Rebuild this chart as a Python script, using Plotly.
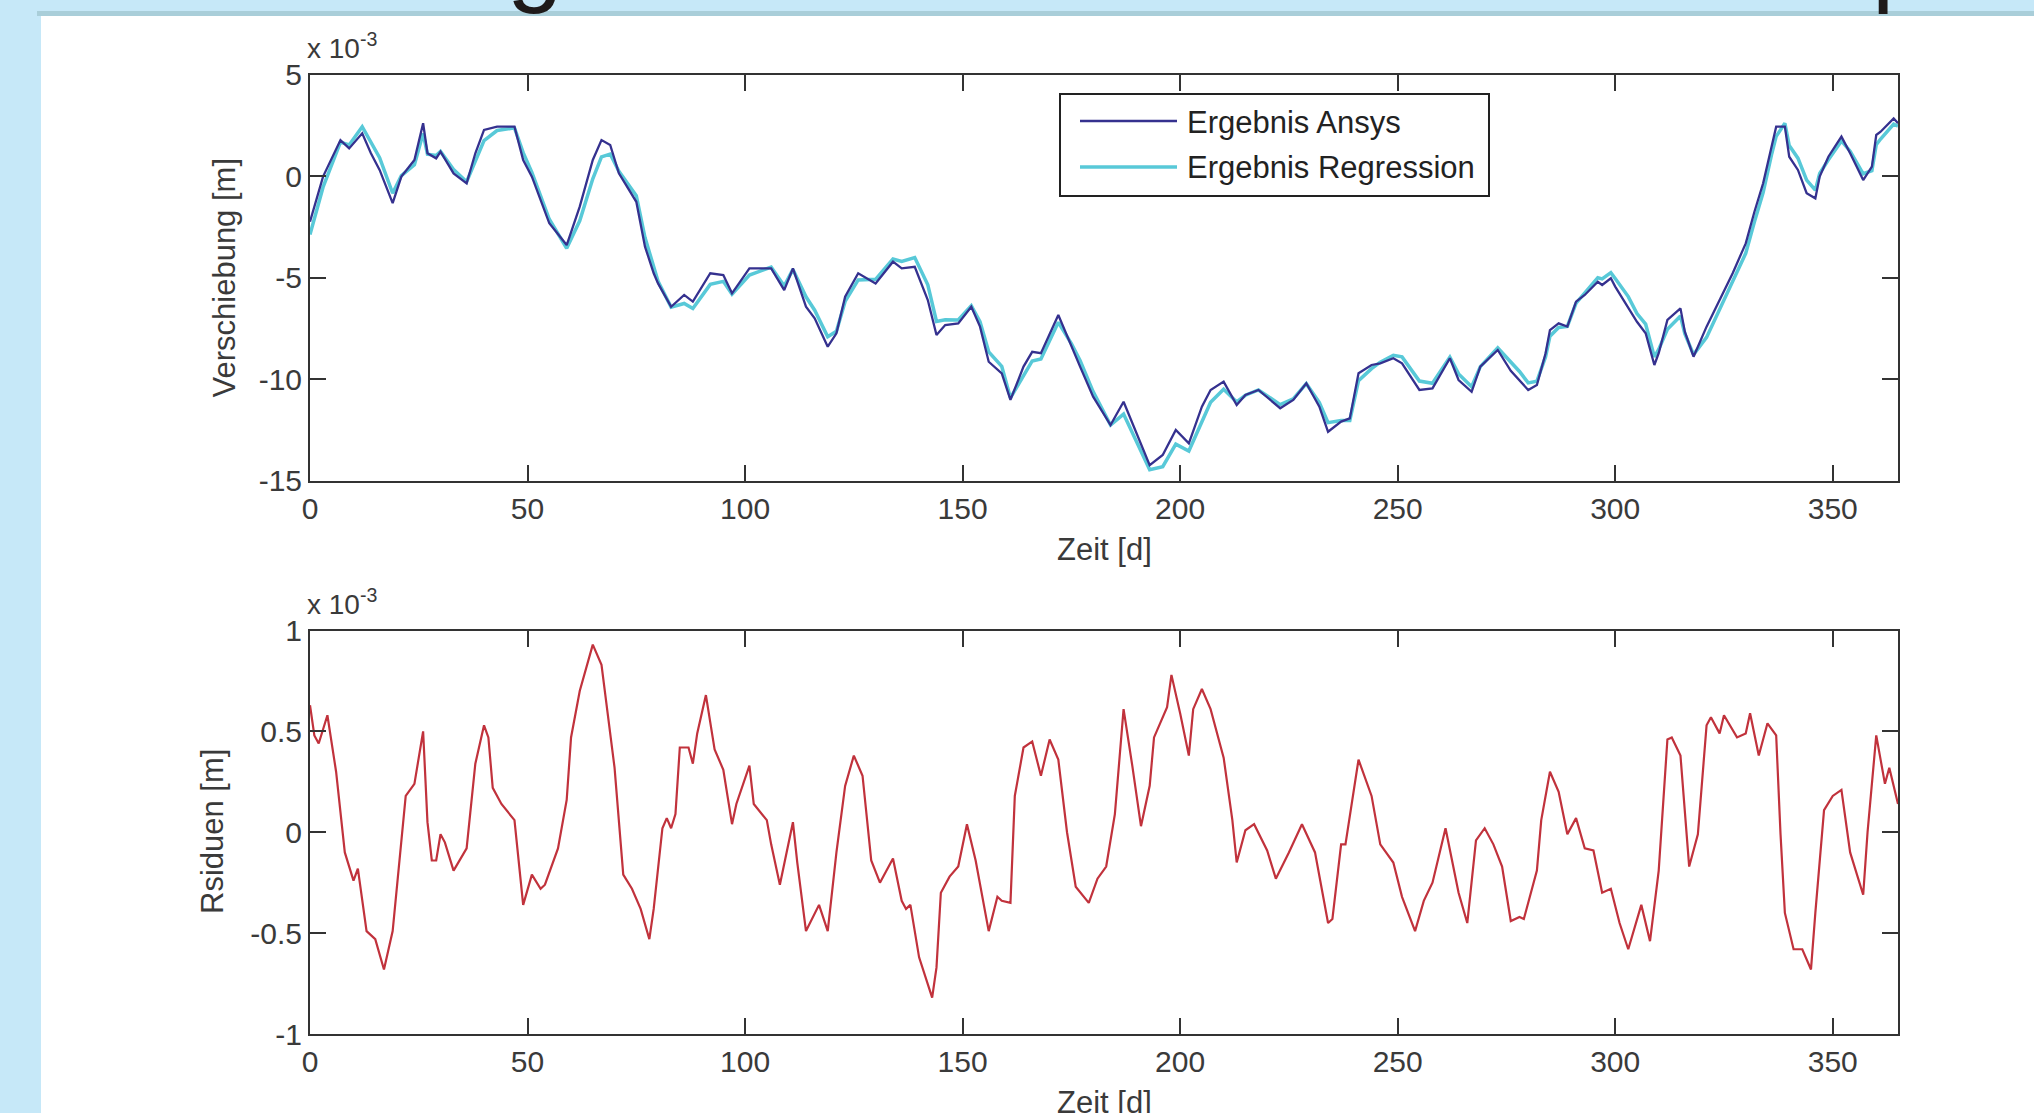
import plotly.graph_objects as go

W, H = 2034, 1113

# ---------------- data (displacement in 10^-3 m, time in days) ----------------
days_top = [0, 3, 7, 9, 12, 14, 16, 19, 21, 24, 26, 27, 29, 30, 33, 36, 38, 40, 43, 47,
            49, 51, 55, 59, 62, 65, 67, 69, 71, 75, 77, 79, 80, 83, 86, 88, 92, 95, 97, 101,
            104, 106, 109, 111, 114, 116, 119, 121, 123, 126, 130, 134, 136, 139, 142, 144, 146, 149, 152, 154,
            156, 159, 161, 164, 166, 168, 172, 175, 177, 180, 184, 187, 193, 196, 199, 202, 205, 207, 210, 213,
            215, 218, 223, 226, 229, 232, 234, 237, 239, 241, 244, 246, 249, 251, 255, 258, 262, 264, 267, 269,
            273, 276, 278, 280, 282, 284, 285, 287, 289, 291, 293, 296, 297, 299, 300, 303, 305, 307, 309, 310,
            312, 315, 316, 318, 321, 324, 327, 330, 332, 334, 336, 337, 339, 340, 342, 344, 346, 347, 349, 352,
            354, 357, 359, 360, 361, 364, 365]

ansys = [-2.25, -0.03, 1.77, 1.36, 2.10, 1.12, 0.30, -1.34, -0.03, 0.79, 2.60, 1.12, 0.87, 1.20, 0.13, -0.36, 1.12, 2.27, 2.43, 2.43,
         0.79, -0.03, -2.33, -3.40, -1.51, 0.79, 1.77, 1.53, 0.13, -1.27, -3.48, -4.79, -5.29, -6.44, -5.86, -6.19, -4.79, -4.88, -5.78, -4.55,
         -4.55, -4.55, -5.62, -4.55, -6.44, -7.01, -8.41, -7.75, -5.95, -4.79, -5.29, -4.22, -4.55, -4.47, -6.11, -7.83, -7.34, -7.26, -6.44, -7.42,
         -9.15, -9.72, -11.03, -9.39, -8.66, -8.73, -6.85, -8.41, -9.39, -10.87, -12.27, -11.12, -14.24, -13.74, -12.51, -13.17, -11.36, -10.54, -10.13, -11.28,
         -10.79, -10.54, -11.44, -11.03, -10.21, -11.36, -12.60, -12.10, -11.94, -9.72, -9.31, -9.23, -8.98, -9.23, -10.54, -10.46, -8.98, -10.05, -10.63, -9.39,
         -8.57, -9.60, -10.05, -10.54, -10.30, -8.73, -7.59, -7.26, -7.42, -6.19, -5.86, -5.21, -5.37, -5.04, -5.45, -6.52, -7.18, -7.75, -9.31, -8.73,
         -7.09, -6.52, -7.67, -8.90, -7.42, -6.11, -4.79, -3.32, -1.76, -0.36, 1.61, 2.43, 2.43, 0.95, 0.30, -0.85, -1.10, -0.03, 0.95, 1.94,
         1.12, -0.20, 0.46, 2.02, 2.18, 2.84, 2.60]

regression = [-2.88, -0.55, 1.67, 1.53, 2.43, 1.63, 0.90, -0.85, 0.02, 0.55, 2.10, 1.07, 1.01, 1.21, 0.32, -0.28, 0.78, 1.74, 2.24, 2.37,
              1.15, 0.18, -2.13, -3.56, -2.21, -0.14, 0.94, 1.08, 0.23, -0.97, -3.03, -4.41, -5.19, -6.46, -6.28, -6.53, -5.34, -5.19, -5.82, -4.88,
              -4.63, -4.49, -5.42, -4.60, -5.95, -6.61, -7.92, -7.65, -6.18, -5.12, -5.09, -4.09, -4.21, -4.02, -5.36, -7.16, -7.08, -7.09, -6.39, -7.17,
              -8.66, -9.38, -10.93, -9.81, -9.11, -9.01, -7.21, -8.26, -9.09, -10.62, -12.27, -11.73, -14.47, -14.32, -13.21, -13.55, -12.07, -11.15, -10.50, -11.13,
              -10.80, -10.54, -11.26, -10.98, -10.23, -11.16, -12.15, -12.04, -12.04, -10.08, -9.49, -9.17, -8.83, -8.91, -10.10, -10.21, -8.93, -9.75, -10.38, -9.39,
              -8.47, -9.16, -9.63, -10.19, -10.11, -8.90, -7.89, -7.46, -7.41, -6.26, -5.78, -5.01, -5.07, -4.76, -5.05, -5.94, -6.78, -7.30, -8.91, -8.54,
              -7.55, -6.90, -7.77, -8.80, -7.95, -6.60, -5.26, -3.81, -2.26, -0.81, 1.11, 1.95, 2.60, 1.50, 0.88, -0.20, -0.70, 0.12, 0.80, 1.73,
              1.22, 0.11, 0.26, 1.54, 1.82, 2.56, 2.46]

days_res = [0, 1, 2, 4, 6, 8, 10, 11, 13, 15, 17, 19, 22, 24, 26, 27, 28, 29, 30, 31,
            33, 36, 38, 40, 41, 42, 44, 47, 49, 51, 53, 54, 57, 59, 60, 62, 65, 67, 70, 72,
            74, 76, 78, 79, 81, 82, 83, 84, 85, 87, 88, 89, 91, 93, 95, 97, 98, 101, 102, 105,
            106, 108, 111, 112, 114, 117, 119, 121, 123, 125, 127, 129, 131, 134, 136, 137, 138, 140, 143, 144,
            145, 147, 149, 151, 153, 156, 158, 159, 161, 162, 164, 166, 168, 170, 172, 174, 176, 179, 181, 183,
            185, 187, 189, 191, 193, 194, 197, 198, 200, 202, 203, 205, 207, 210, 212, 213, 215, 217, 220, 222,
            225, 228, 231, 234, 235, 237, 238, 241, 244, 246, 249, 251, 254, 256, 258, 261, 264, 266, 268, 270,
            272, 274, 276, 278, 279, 282, 283, 285, 287, 289, 291, 293, 295, 297, 299, 301, 303, 306, 308, 310,
            312, 313, 315, 317, 319, 321, 322, 324, 325, 328, 330, 331, 333, 335, 337, 338, 339, 341, 343, 345,
            346, 348, 350, 352, 354, 357, 358, 360, 361, 362, 363, 365]

residual = [0.63, 0.48, 0.44, 0.58, 0.30, -0.10, -0.24, -0.18, -0.49, -0.53, -0.68, -0.49, 0.18, 0.24, 0.50, 0.05, -0.14, -0.14, -0.01, -0.05,
            -0.19, -0.08, 0.34, 0.53, 0.47, 0.22, 0.14, 0.06, -0.36, -0.21, -0.28, -0.26, -0.08, 0.16, 0.47, 0.70, 0.93, 0.83, 0.32, -0.21,
            -0.28, -0.38, -0.53, -0.38, 0.02, 0.07, 0.02, 0.09, 0.42, 0.42, 0.34, 0.49, 0.68, 0.41, 0.31, 0.04, 0.14, 0.33, 0.14, 0.06,
            -0.06, -0.26, 0.05, -0.15, -0.49, -0.36, -0.49, -0.10, 0.23, 0.38, 0.28, -0.14, -0.25, -0.13, -0.34, -0.38, -0.36, -0.62, -0.82, -0.67,
            -0.30, -0.22, -0.17, 0.04, -0.14, -0.49, -0.32, -0.34, -0.35, 0.18, 0.42, 0.45, 0.28, 0.46, 0.36, 0.00, -0.27, -0.35, -0.23, -0.17,
            0.09, 0.61, 0.33, 0.03, 0.23, 0.47, 0.62, 0.78, 0.59, 0.38, 0.61, 0.71, 0.61, 0.37, 0.06, -0.15, 0.01, 0.04, -0.09, -0.23,
            -0.10, 0.04, -0.10, -0.45, -0.43, -0.06, -0.06, 0.36, 0.18, -0.06, -0.15, -0.32, -0.49, -0.34, -0.25, 0.02, -0.30, -0.45, -0.04, 0.02,
            -0.06, -0.17, -0.44, -0.42, -0.43, -0.19, 0.06, 0.30, 0.20, -0.01, 0.07, -0.08, -0.09, -0.30, -0.28, -0.45, -0.58, -0.36, -0.54, -0.19,
            0.46, 0.47, 0.38, -0.17, -0.01, 0.53, 0.57, 0.49, 0.58, 0.47, 0.49, 0.59, 0.38, 0.54, 0.48, -0.01, -0.40, -0.58, -0.58, -0.68,
            -0.40, 0.11, 0.18, 0.21, -0.10, -0.31, 0.00, 0.48, 0.36, 0.24, 0.32, 0.14]

x_ticks = [0, 50, 100, 150, 200, 250, 300, 350]
y_ticks_top = [-15, -10, -5, 0, 5]
y_ticktext_top = ["-15", "-10", "-5", "0", "5"]
y_ticks_bot = [-1, -0.5, 0, 0.5, 1]
y_ticktext_bot = ["-1", "-0.5", "0", "0.5", "1"]

# ---------------- styling ----------------
C_ANSYS = "#35318f"
C_REGR = "#58c9d8"
C_RES = "#c1323c"
AX = "#333333"
TXT = "#3a3a3a"
FONT = "Liberation Sans, Arial, Helvetica, sans-serif"
BLUE = "#c6e8f8"
BAND = "#a9ced9"


def px(x):
    return x / W


def py(y):
    return 1 - y / H


fig = go.Figure()
fig.add_trace(go.Scatter(x=days_top, y=regression, mode="lines", name="Ergebnis Regression",
                         line=dict(color=C_REGR, width=3.5), xaxis="x", yaxis="y"))
fig.add_trace(go.Scatter(x=days_top, y=ansys, mode="lines", name="Ergebnis Ansys",
                         line=dict(color=C_ANSYS, width=2.3), xaxis="x", yaxis="y"))
fig.add_trace(go.Scatter(x=days_res, y=residual, mode="lines", name="Residuen",
                         line=dict(color=C_RES, width=2.2), xaxis="x2", yaxis="y2"))

axis_common = dict(showline=True, linecolor=AX, linewidth=2, mirror="ticks", ticks="inside",
                   ticklen=16, tickwidth=2, tickcolor=AX, showgrid=False, zeroline=False,
                   automargin=False, tickfont=dict(family=FONT, size=30, color=TXT))

xdom = [px(310), px(1898)]
fig.update_layout(
    template="none",
    width=W, height=H, autosize=False,
    margin=dict(l=0, r=0, t=0, b=0, pad=0, autoexpand=False),
    paper_bgcolor=BLUE, plot_bgcolor="white",
    showlegend=False,
    xaxis=dict(domain=xdom, range=[0, 365], tickvals=x_ticks, anchor="y", **axis_common),
    yaxis=dict(domain=[py(480.5), py(74.5)], range=[-15, 5], tickvals=y_ticks_top,
               ticktext=y_ticktext_top, anchor="x", **axis_common),
    xaxis2=dict(domain=xdom, range=[0, 365], tickvals=x_ticks, anchor="y2", **axis_common),
    yaxis2=dict(domain=[py(1034), py(630.5)], range=[-1, 1], tickvals=y_ticks_bot,
                ticktext=y_ticktext_bot, anchor="x2", **axis_common),
)

shapes = [
    # white panel
    dict(type="rect", xref="paper", yref="paper", x0=px(41), x1=1.0, y0=0, y1=py(16),
         fillcolor="white", line=dict(width=0), layer="below"),
    # darker band under top strip
    dict(type="rect", xref="paper", yref="paper", x0=px(37), x1=1.0, y0=py(16), y1=py(11),
         fillcolor=BAND, line=dict(width=0), layer="below"),
    # legend box
    dict(type="rect", xref="paper", yref="paper", x0=px(1060), x1=px(1489), y0=py(196), y1=py(94),
         fillcolor="white", line=dict(color="#222222", width=2), layer="above"),
    dict(type="line", xref="paper", yref="paper", x0=px(1080), x1=px(1177), y0=py(121), y1=py(121),
         line=dict(color=C_ANSYS, width=2.3), layer="above"),
    dict(type="line", xref="paper", yref="paper", x0=px(1080), x1=px(1177), y0=py(167), y1=py(167),
         line=dict(color=C_REGR, width=3.5), layer="above"),
]
fig.update_layout(shapes=shapes)

ann = []


def text(x, y, s, size=31, xanchor="center", yanchor="middle", angle=0, color=TXT):
    ann.append(dict(xref="paper", yref="paper", x=px(x), y=py(y), text=s, showarrow=False,
                    xanchor=xanchor, yanchor=yanchor, textangle=angle,
                    font=dict(family=FONT, size=size, color=color)))


text(1185, 122, "Ergebnis Ansys", xanchor="left", color="#222222")
text(1185, 168, "Ergebnis Regression", xanchor="left", color="#222222")
text(224, 277.5, "Verschiebung [m]", angle=-90)
text(212, 832, "Rsiduen [m]", angle=-90)
text(1104, 549, "Zeit [d]")
text(1104, 1102, "Zeit [d]")
text(305, 66, "x 10<sup>-3</sup>", size=28, xanchor="left", yanchor="bottom")
text(305, 622, "x 10<sup>-3</sup>", size=28, xanchor="left", yanchor="bottom")
# fragments of the clipped page title above the panel
text(535, 16, "g", size=100, yanchor="bottom", color="#1e1a1a")
text(1900, 16, "p", size=100, yanchor="bottom", color="#1e1a1a")
fig.update_layout(annotations=ann)

fig.write_html("out.html", config={"displayModeBar": False},
               post_script="document.body.style.margin='0';document.body.style.overflow='hidden';")
